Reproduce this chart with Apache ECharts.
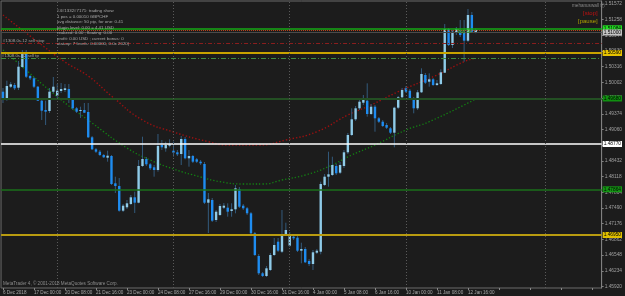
<!DOCTYPE html>
<html><head><meta charset="utf-8">
<script src="https://cdn.jsdelivr.net/npm/echarts@6/dist/echarts.min.js"></script>
<style>html,body{margin:0;padding:0;background:#1c1c1c;overflow:hidden}#c{width:625px;height:296px}</style>
</head><body><div id="c"></div>
<script>
const xLabels = ["6 Dec 2018","17 Dec 00:00","20 Dec 08:00","21 Dec 16:00","23 Dec 00:00","24 Dec 08:00","27 Dec 16:00","29 Dec 00:00","30 Dec 16:00","31 Dec 16:00","4 Jan 00:00","5 Jan 08:00","6 Jan 16:00","10 Jan 00:00","11 Jan 08:00","12 Jan 16:00"];
const open = [1.49816,1.4965,1.49916,1.4995,1.49896,1.5031,1.5061,1.5013,1.50084,1.49916,1.49636,1.4945,1.4943,1.49816,1.49736,1.4983,1.4985,1.4987,1.49664,1.49484,1.4943,1.4945,1.4941,1.48904,1.48664,1.48616,1.4855,1.48496,1.4853,1.47984,1.4793,1.47436,1.47504,1.4757,1.47704,1.47596,1.4833,1.4847,1.48364,1.48304,1.4825,1.4875,1.48684,1.48736,1.48636,1.48604,1.4857,1.4887,1.48484,1.4853,1.48464,1.48416,1.4837,1.47596,1.4765,1.4725,1.4735,1.47496,1.47496,1.4743,1.47464,1.4787,1.47536,1.47484,1.47384,1.46984,1.4653,1.46184,1.4613,1.4625,1.4655,1.46816,1.46616,1.4697,1.46736,1.46916,1.46896,1.46636,1.4667,1.4643,1.4637,1.46596,1.46616,1.4795,1.48116,1.4815,1.4833,1.48196,1.4833,1.48604,1.4895,1.49264,1.49484,1.49596,1.49636,1.4937,1.49516,1.49284,1.49216,1.4915,1.49084,1.48996,1.49496,1.49704,1.49884,1.49836,1.49664,1.49484,1.49804,1.5015,1.50016,1.50064,1.4995,1.4997,1.50196,1.5107,1.5075,1.5099,1.51016,1.50996,1.50836,1.5135,1.50996];
const close = [1.4965,1.4993,1.49964,1.49884,1.50316,1.5059,1.50116,1.50084,1.49916,1.49636,1.49436,1.49416,1.49816,1.49916,1.49836,1.4987,1.49884,1.49664,1.49484,1.49416,1.4945,1.49396,1.48904,1.48664,1.48616,1.4855,1.48504,1.48536,1.4797,1.4793,1.47436,1.47536,1.47584,1.47704,1.47596,1.4833,1.4847,1.48364,1.48284,1.4825,1.4873,1.48704,1.4875,1.48764,1.48596,1.48564,1.4887,1.48484,1.4853,1.48416,1.48416,1.48384,1.47596,1.47664,1.47236,1.47416,1.4753,1.47536,1.47416,1.47464,1.47884,1.47516,1.47484,1.47384,1.46984,1.4655,1.46184,1.4613,1.46284,1.4655,1.4675,1.46636,1.4697,1.4705,1.46936,1.46884,1.46636,1.4667,1.46404,1.4637,1.46604,1.46636,1.4797,1.48116,1.48164,1.4835,1.48184,1.4835,1.48604,1.4895,1.49264,1.49484,1.49616,1.4965,1.4937,1.49516,1.49284,1.49216,1.4913,1.49096,1.48996,1.49496,1.49704,1.4985,1.49816,1.49664,1.49484,1.49804,1.5017,1.49996,1.50064,1.4995,1.49984,1.50204,1.5107,1.5075,1.51016,1.5107,1.5095,1.50836,1.5135,1.51016,1.5105];
const low = [1.4959,1.49636,1.4989,1.4985,1.4985,1.5029,1.5009,1.5005,1.4989,1.4963,1.4925,1.4915,1.4939,1.4979,1.4967,1.4979,1.4981,1.4959,1.4945,1.4939,1.4929,1.4939,1.4889,1.4865,1.4859,1.4853,1.4849,1.48416,1.4795,1.4779,1.47416,1.4741,1.4747,1.4755,1.4739,1.47584,1.4831,1.4833,1.4825,1.48116,1.48216,1.4865,1.48616,1.48704,1.48516,1.4853,1.4835,1.48464,1.48316,1.4839,1.4839,1.4835,1.4757,1.4699,1.4721,1.4721,1.4733,1.4747,1.47316,1.47316,1.47384,1.4749,1.4745,1.4735,1.4697,1.4653,1.4615,1.4611,1.4611,1.4623,1.4653,1.4661,1.4659,1.4693,1.4671,1.4685,1.4661,1.46384,1.4639,1.4633,1.4625,1.4657,1.46564,1.4793,1.47916,1.4813,1.4815,1.4817,1.4829,1.4857,1.4893,1.4923,1.4945,1.4955,1.49316,1.4935,1.49016,1.4919,1.4911,1.4907,1.4897,1.48704,1.4947,1.4967,1.4979,1.4965,1.49384,1.4945,1.4979,1.4997,1.49916,1.4993,1.4993,1.4995,1.5019,1.5073,1.5069,1.5095,1.5091,1.50416,1.5081,1.5099,1.50984];
const high = [1.4989,1.50036,1.5001,1.4999,1.5043,1.5065,1.5065,1.5015,1.5011,1.4993,1.4965,1.49636,1.4989,1.5011,1.4997,1.4999,1.4997,1.4997,1.4969,1.4951,1.49516,1.4959,1.4959,1.4893,1.4869,1.4865,1.4857,1.48636,1.4855,1.48116,1.4809,1.4757,1.4765,1.4775,1.47816,1.4845,1.48916,1.4851,1.4839,1.4835,1.4897,1.4885,1.48816,1.48864,1.48816,1.4865,1.4893,1.4891,1.4865,1.4855,1.4849,1.4845,1.4841,1.4779,1.4769,1.4745,1.4757,1.4759,1.47584,1.47584,1.4795,1.4791,1.4757,1.4751,1.4741,1.4701,1.4657,1.4621,1.4633,1.4659,1.4689,1.4689,1.4745,1.47196,1.4701,1.4695,1.4693,1.46796,1.4671,1.4647,1.4665,1.4667,1.48016,1.4817,1.48616,1.48516,1.4837,1.4841,1.4865,1.4899,1.49484,1.4953,1.4965,1.4975,1.49984,1.4957,1.4955,1.4931,1.4925,1.4919,1.4911,1.49516,1.4973,1.4989,1.4993,1.4987,1.4971,1.4985,1.50284,1.5019,1.50184,1.5009,1.5005,1.50264,1.5117,1.5109,1.5105,1.5111,1.5125,1.5125,1.5147,1.5141,1.51084];
const priceTicks = [1.51572,1.51258,1.50944,1.50630,1.50316,1.50002,1.49688,1.49374,1.49060,1.48746,1.48432,1.48118,1.47804,1.47490,1.47176,1.46862,1.46548,1.46234,1.45920];
const levels = [1.51084,1.5105,1.5100,1.5079,1.5059,1.5049,1.4968,1.4877,1.47864,1.4695];
const redCurveIdx = [0,8,16,22,28,36,44,53,58,66,73,81,89,95,102,112,119,122];
const redCurveVal = [1.5135,1.5087,1.5041,1.5013,1.4973,1.4925,1.4901,1.48816,1.4875,1.4875,1.4885,1.49016,1.4935,1.4955,1.49816,1.5015,1.50416,1.5049];
const greenCurveIdx = [0,3,14,23,32,38,44,51,56,62,67,72,78,84,90,96,104,110,122];
const greenCurveVal = [1.5065,1.5045,1.49716,1.4919,1.4869,1.4845,1.4827,1.4811,1.48016,1.4797,1.4797,1.4805,1.4815,1.48316,1.4855,1.4875,1.4905,1.49216,1.4967];
const separators = [14,44,74,104,140];
const infoLines = ["#4#1332#7171: trading show","1 pos = 0.00010 GBPCHF","avg distance: 50 pip, for one: 0.41","plugin level: 0.00 = 4.41 USD","realized: 0.00 ; floating: 0.00","profit: 0.00 USD ; current bonus: 0","stat-op: 7 levels: 0.00000, 0.0x 2020)"];

const N = 155;
const cats = Array.from({length:N},(_, i)=>String(i));
const bars = open.map((o,i)=>[i,o,close[i],low[i],high[i]]);

const levelStyle = [
 {line:{color:'#14a814',width:1.5,type:'solid'}, box:'#22dd22'},
 {line:{color:'#c0441c',width:1,type:[1,1]}, box:null},
 {line:{color:'#4a4a4a',width:1,type:'solid'}, box:'#c4c4c4'},
 {line:{color:'#8a1e1e',width:1,type:[4,2,1,2]}, box:null},
 {line:{color:'#c9a400',width:2,type:'solid'}, box:'#e6c200'},
 {line:{color:'#3f8f3f',width:1,type:[5,2,1,2]}, box:null},
 {line:{color:'#234f23',width:2,type:'solid'}, box:'#109010'},
 {line:{color:'#ffffff',width:1.5,type:'solid'}, box:'#ffffff'},
 {line:{color:'#1a6f1a',width:1.5,type:'solid'}, box:'#149614'},
 {line:{color:'#b89b10',width:2,type:'solid'}, box:'#e0c000'}
];

const FONT = '"Liberation Sans", Arial, sans-serif';
const chart = echarts.init(document.getElementById('c'), null, {renderer:'canvas'});
chart.setOption({
 animation:false,
 backgroundColor:'#1c1c1c',
 grid:{left:0,right:18,top:1,bottom:8,show:true,borderColor:'#6a6a6a',borderWidth:1,backgroundColor:'transparent'},
 xAxis:{type:'category',data:cats,boundaryGap:true,
  axisLine:{show:false},
  axisTick:{show:true,interval:7,length:2,alignWithLabel:true,lineStyle:{color:'#888'}},
  axisLabel:{interval:7,align:'left',color:'#a8a8a8',fontSize:4.6,fontFamily:FONT,margin:2,
   formatter:(v,i)=> (i%8===0 && xLabels[i/8]) ? xLabels[i/8] : ''},
  splitLine:{show:false}},
 yAxis:{type:'value',position:'right',min:1.4589,max:1.5163,scale:true,
  axisLine:{show:true,lineStyle:{color:'#808080'}},
  axisTick:{show:true,customValues:priceTicks,length:2,lineStyle:{color:'#808080'}},
  axisLabel:{customValues:priceTicks,formatter:v=>v.toFixed(5),color:'#a0a0a0',fontSize:4.8,fontFamily:FONT,margin:3},
  splitLine:{show:false}},
 series:[
  {type:'line',data:redCurveIdx.map((x,k)=>[x,redCurveVal[k]]),smooth:true,symbol:'none',
   lineStyle:{color:'#9a1010',width:1.4,type:[1.4,2]},z:2},
  {type:'line',data:greenCurveIdx.map((x,k)=>[x,greenCurveVal[k]]),smooth:true,symbol:'none',
   lineStyle:{color:'#138013',width:1.3,type:[1.3,2]},z:2,
   markLine:{silent:true,symbol:['none','none'],precision:5,animation:false,z:5,
    data:[
     ...levels.map((v,k)=>({yAxis:v,lineStyle:levelStyle[k].line,
       label: levelStyle[k].box ? {show:true,position:'end',distance:1,formatter:v.toFixed(5),color:'#000',fontSize:4.8,fontFamily:FONT,
         backgroundColor:levelStyle[k].box,padding:[1,1,0,1]} : {show:false}})),
     ...separators.map(s=>({xAxis:s,lineStyle:{color:'#5a5a5a',width:1,type:[1,2]},label:{show:false}}))
    ]}},
  {type:'custom',data:bars,encode:{x:0,y:[1,2,3,4]},z:3,
   renderItem:(params,api)=>{
    const i=api.value(0);
    const o=api.coord([i,api.value(1)]), c=api.coord([i,api.value(2)]);
    const l=api.coord([i,api.value(3)]), h=api.coord([i,api.value(4)]);
    const bull=api.value(2)>=api.value(1);
    const w=2.4, top=Math.min(o[1],c[1]), bot=Math.max(o[1],c[1]);
    return {type:'group',children:[
     {type:'line',shape:{x1:h[0],y1:h[1],x2:l[0],y2:l[1]},style:{stroke:'#335a7c',lineWidth:1}},
     {type:'rect',shape:{x:o[0]-w/2,y:top,width:w,height:Math.max(bot-top,1)},style:{fill:bull?'#8fcbe8':'#1e8cf0'}}
    ]};
   }}
 ],
 graphic:[
  {type:'text',left:57,top:8,z:10,style:{text:infoLines.join('\n'),fill:'#a8a8a8',font:'4.4px '+FONT,lineHeight:5.55}},
  {type:'text',left:3,top:38.5,z:10,style:{text:'#1308.0s.12 sell stop',fill:'#a0a0a0',font:'4.4px '+FONT}},
  {type:'text',left:2,top:53.5,z:10,style:{text:'#1308.0s.12 sell tp',fill:'#a0a0a0',font:'4.4px '+FONT}},
  {type:'text',left:572,top:3.5,z:10,style:{text:'mehanuswall \u24D8',fill:'#8a8a8a',font:'4.6px '+FONT}},
  {type:'text',left:583,top:10.5,z:10,style:{text:'[stop]',fill:'#c01010',font:'6px '+FONT}},
  {type:'text',left:578,top:18,z:10,style:{text:'[pause]',fill:'#b0a000',font:'6px '+FONT}},
  {type:'text',left:458,top:29,z:10,style:{text:'buy 0k',fill:'#3fcf3f',font:'4.6px '+FONT}},
  {type:'text',left:3,top:281,z:10,style:{text:'MetaTrader 4, \u00A9 2001-2018 MetaQuotes Software Corp.',fill:'#8c8c8c',font:'4.6px '+FONT}}
 ]
});
</script></body></html>
